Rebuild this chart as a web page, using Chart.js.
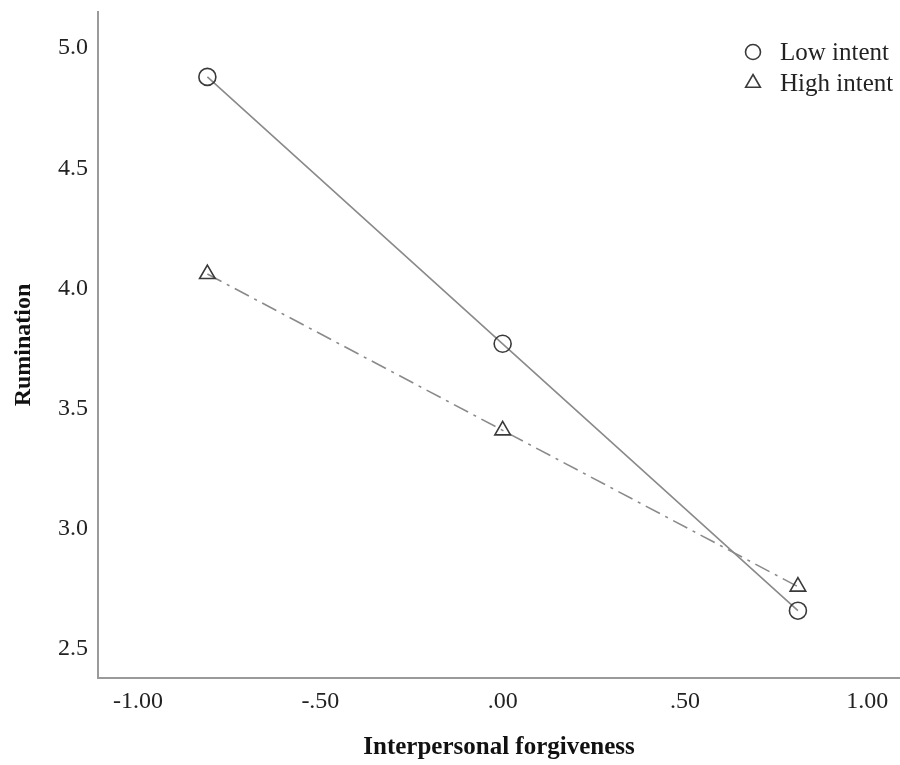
<!DOCTYPE html>
<html lang="en">
<head>
    <meta charset="UTF-8">
    <title>Rumination by Interpersonal forgiveness</title>
    <script src="https://cdn.jsdelivr.net/npm/chart.js"></script>
    <style>
        html, body { margin: 0; padding: 0; background: #fff; }
        #wrap { width: 900px; height: 765px; }
    </style>
</head>
<body>
    <div id="wrap"><canvas id="chart" width="900" height="765"></canvas></div>

    <script>
        // data
        const forgiveness = [-0.81, 0.00, 0.81];
        const lowIntent = [4.88, 3.77, 2.66];
        const highIntent = [4.06, 3.41, 2.76];
        const xTickValues = [-1.0, -0.5, 0.0, 0.5, 1.0];
        const yTickValues = [2.5, 3.0, 3.5, 4.0, 4.5, 5.0];
        const seriesNames = ['Low intent', 'High intent'];

        const serif = "'Liberation Serif', 'Times New Roman', serif";
        const lineGray = '#8a8a8a';
        const markGray = '#3a3a3a';

        // legend drawn inside the plot, top right
        const innerLegend = {
            id: 'innerLegend',
            afterDraw(chart) {
                const ctx = chart.ctx;
                ctx.save();
                ctx.strokeStyle = markGray;
                ctx.lineWidth = 1.6;
                const styles = ['circle', 'triangle'];
                const rows = [52, 83];
                styles.forEach((st, i) => {
                    ctx.fillStyle = 'rgba(0,0,0,0)';
                    Chart.helpers.drawPoint(ctx, { pointStyle: st, radius: st === 'circle' ? 7.5 : 8.5, borderWidth: 1.6 }, 753, rows[i]);
                    ctx.font = '25px ' + serif;
                    ctx.fillStyle = '#222';
                    ctx.textBaseline = 'middle';
                    ctx.fillText(seriesNames[i], 780, rows[i] + 1);
                });
                ctx.restore();
            }
        };

        const makePoints = ys => forgiveness.map((x, i) => ({ x: x, y: ys[i] }));

        new Chart(document.getElementById('chart'), {
            type: 'line',
            data: {
                datasets: [{
                    label: seriesNames[0],
                    data: makePoints(lowIntent),
                    borderColor: lineGray,
                    borderWidth: 1.6,
                    pointStyle: 'circle',
                    pointRadius: 8.5,
                    pointBorderWidth: 1.6,
                    pointBorderColor: markGray,
                    pointBackgroundColor: 'rgba(0,0,0,0)',
                    tension: 0
                }, {
                    label: seriesNames[1],
                    data: makePoints(highIntent),
                    borderColor: lineGray,
                    borderWidth: 1.6,
                    borderDash: [16, 6, 3, 6],
                    pointStyle: 'triangle',
                    pointRadius: 9,
                    pointBorderWidth: 1.6,
                    pointBorderColor: markGray,
                    pointBackgroundColor: 'rgba(0,0,0,0)',
                    tension: 0
                }]
            },
            options: {
                responsive: false,
                animation: false,
                layout: { autoPadding: false, padding: { top: 12, right: 0, left: 0, bottom: 0 } },
                plugins: {
                    legend: { display: false },
                    tooltip: { enabled: false }
                },
                scales: {
                    x: {
                        type: 'linear',
                        min: -1.11,
                        max: 1.09,
                        afterBuildTicks: s => { s.ticks = xTickValues.map(v => ({ value: v })); },
                        afterFit: s => { s.height = 87; s.paddingLeft = 0; s.paddingRight = 0; },
                        grid: { display: false, drawTicks: false },
                        border: { display: true, color: '#9a9a9a', width: 2 },
                        ticks: {
                            padding: 9,
                            color: '#222',
                            font: { family: serif, size: 24 },
                            callback: v => v.toFixed(2).replace('0.', '.')
                        },
                        title: {
                            display: true,
                            text: 'Interpersonal forgiveness',
                            color: '#111',
                            font: { family: serif, size: 25, weight: 'bold' },
                            padding: { top: 0, bottom: 2 }
                        }
                    },
                    y: {
                        min: 2.38,
                        max: 5.15,
                        afterBuildTicks: s => { s.ticks = yTickValues.map(v => ({ value: v })); },
                        afterFit: s => { s.width = 98; s.paddingTop = 0; s.paddingBottom = 0; },
                        grid: { display: false, drawTicks: false },
                        border: { display: true, color: '#9a9a9a', width: 2 },
                        ticks: {
                            padding: 10,
                            color: '#222',
                            font: { family: serif, size: 24 },
                            callback: v => v.toFixed(1)
                        },
                        title: {
                            display: true,
                            text: 'Rumination',
                            color: '#111',
                            font: { family: serif, size: 24, weight: 'bold' },
                            padding: { top: 9, bottom: 0 }
                        }
                    }
                }
            },
            plugins: [innerLegend]
        });
    </script>
</body>
</html>
